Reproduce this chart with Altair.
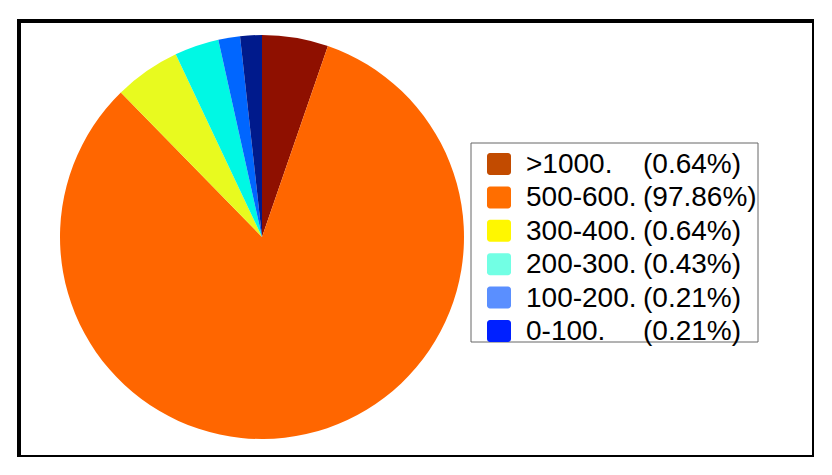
import altair as alt
import pandas as pd

# Categories (legend order = slice order, clockwise from 12 o'clock)
categories = [">1000.", "500-600.", "300-400.", "200-300.", "100-200.", "0-100."]
# Percent labels shown in the legend
percent_labels = ["(0.64%)", "(97.86%)", "(0.64%)", "(0.43%)", "(0.21%)", "(0.21%)"]
# Angular share of each slice as drawn in the picture
slice_share = [0.64, 9.97, 0.64, 0.43, 0.21, 0.21]
# Slice colours and (lighter) legend swatch colours
slice_colors = ["#8f1000", "#ff6600", "#e8fa1f", "#00f8e4", "#0066ff", "#001a8c"]
swatch_colors = ["#c24b00", "#ff6e00", "#fff700", "#72ffe4", "#5a8fff", "#0020ff"]

display_labels = ["\u00a0" + categories[0]] + categories[1:]

df = pd.DataFrame({
    "idx": list(range(len(categories))),
    "cat": categories,
    "label": display_labels,
    "pct": percent_labels,
    "share": slice_share,
    "slice_color": slice_colors,
    "swatch_color": swatch_colors,
})

FONT = "Liberation Sans"

pie = alt.Chart(df).mark_arc(outerRadius=202).encode(
    theta=alt.Theta("share:Q", stack=True),
    color=alt.Color("slice_color:N", scale=None),
    order=alt.Order("idx:Q"),
    x=alt.value(243),
    y=alt.value(216),
)

frame = alt.Chart(pd.DataFrame({"a": [0]})).mark_rect(
    fill="white", stroke="#666666", strokeWidth=1
).encode(
    x=alt.value(452), x2=alt.value(739), y=alt.value(122), y2=alt.value(321)
)

yenc = alt.Y(
    "cat:N",
    sort=categories,
    scale=alt.Scale(type="point", range=[143, 310], padding=0),
    axis=None,
)

swatches = alt.Chart(df).mark_rect(width=24, height=22, cornerRadius=3).encode(
    x=alt.value(480),
    y=yenc,
    fill=alt.Fill("swatch_color:N", scale=None),
)

labels = alt.Chart(df).mark_text(
    align="left", baseline="middle", font=FONT, fontSize=28, color="black", dy=1
).encode(
    x=alt.value(507),
    y=yenc,
    text="label:N",
)

pcts = alt.Chart(df).mark_text(
    align="left", baseline="middle", font=FONT, fontSize=28, color="black", dy=1
).encode(
    x=alt.value(624),
    y=yenc,
    text="pct:N",
)

chart = alt.layer(pie, frame, swatches, labels, pcts).properties(
    width=795,
    height=436,
    padding={"left": 11, "top": 13, "right": 0, "bottom": 0},
    autosize=alt.AutoSizeParams(type="none"),
    background="white",
).configure_view(
    stroke="black", strokeWidth=4
)

chart.save("out.html", embed_options={"renderer": "svg", "actions": False})
